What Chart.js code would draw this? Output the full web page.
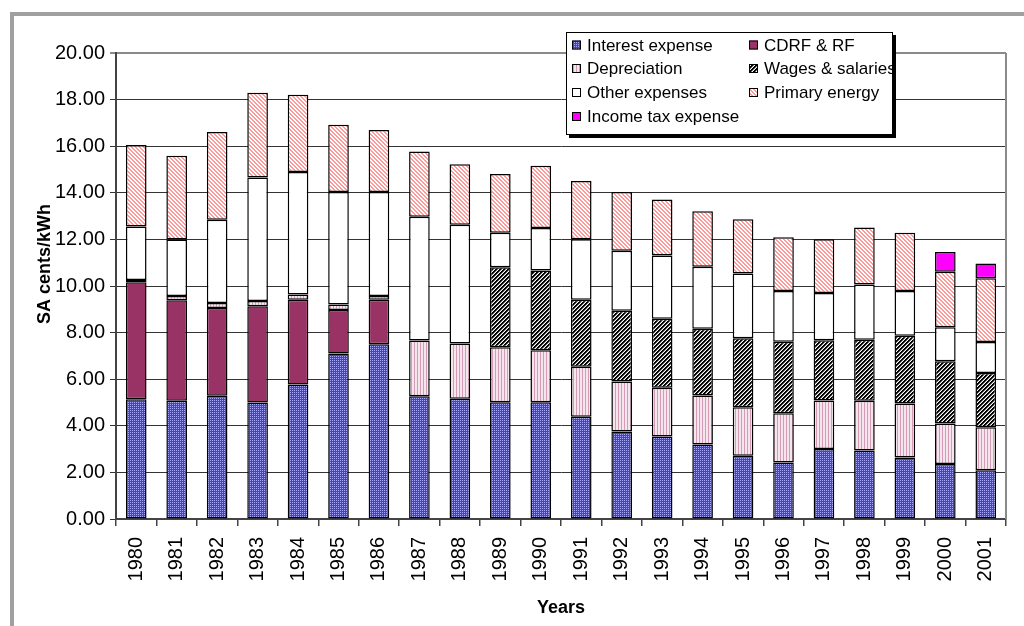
<!DOCTYPE html>
<html>
<head>
<meta charset="utf-8">
<script src="https://cdn.jsdelivr.net/npm/chart.js@4.4.1/dist/chart.umd.min.js"></script>
<style>
html,body{margin:0;padding:0;background:#fff;}
#wrap{position:relative;width:1024px;height:626px;}
</style>
</head>
<body>
<div id="wrap"><canvas id="c" width="1024" height="626"></canvas></div>
<script>
const years = ['1980','1981','1982','1983','1984','1985','1986','1987','1988','1989','1990','1991','1992','1993','1994','1995','1996','1997','1998','1999','2000','2001'];
const interestExpense = [5.14,5.07,5.29,5.00,5.77,7.10,7.50,5.27,5.16,5.01,5.01,4.39,3.76,3.54,3.20,2.71,2.43,3.00,2.94,2.64,2.36,2.09];
const cdrfRf          = [5.02,4.32,3.77,4.13,3.64,1.87,1.91,0,0,0,0,0,0,0,0,0,0,0,0,0,0,0];
const depreciation    = [0.10,0.18,0.21,0.23,0.22,0.24,0.16,2.39,2.37,2.36,2.23,2.14,2.14,2.09,2.10,2.09,2.11,2.09,2.13,2.32,1.74,1.85];
const wagesSalaries   = [0,0,0,0,0,0,0,0,0,3.44,3.43,2.88,3.04,2.96,2.87,2.96,3.07,2.58,2.62,2.91,2.67,2.33];
const otherExpenses   = [2.29,2.43,3.57,5.30,5.26,4.82,4.46,5.31,5.10,1.48,1.82,2.60,2.57,2.72,2.66,2.78,2.18,2.03,2.37,1.92,1.46,1.33];
const primaryEnergy   = [3.50,3.59,3.77,3.63,3.32,2.89,2.67,2.80,2.60,2.52,2.67,2.50,2.52,2.40,2.38,2.33,2.30,2.31,2.45,2.50,2.38,2.73];
const incomeTax       = [0,0,0,0,0,0,0,0,0,0,0,0,0,0,0,0,0,0,0,0,0.85,0.64];
const yTicks = [0,2,4,6,8,10,12,14,16,18,20];

const canvas = document.getElementById('c');
const cctx = canvas.getContext('2d');
function makePattern(w,h,fn){
  const t=document.createElement('canvas'); t.width=w; t.height=h;
  const g=t.getContext('2d');
  for(let y=0;y<h;y++)for(let x=0;x<w;x++){g.fillStyle=fn(x,y);g.fillRect(x,y,1,1);}
  return cctx.createPattern(t,'repeat');
}
const pInterest = makePattern(2,2,(x,y)=> (x===0&&y===0)?'#a8a8ff':'#3c3cff');
const pDep = makePattern(3,1,(x,y)=> x===0?'#d49ab8':'#f5e6ee');
const pWages = makePattern(4,4,(x,y)=> { const k=(x+y)%4; return k<2?'#000000':(k===2?'#808080':'#ffffff'); });
const pPrimary = makePattern(4,4,(x,y)=> ((x+4-y)%4<2)?'#ff9a9a':'#ffffff');

const series = [
  {label:'Interest expense', data:interestExpense, bg:pInterest},
  {label:'CDRF & RF', data:cdrfRf, bg:'#993366'},
  {label:'Depreciation', data:depreciation, bg:pDep},
  {label:'Wages & salaries', data:wagesSalaries, bg:pWages},
  {label:'Other expenses', data:otherExpenses, bg:'#ffffff'},
  {label:'Primary energy', data:primaryEnergy, bg:pPrimary},
  {label:'Income tax expense', data:incomeTax, bg:'#ff00ff'}
];

const FONT = '"Liberation Sans", Arial, sans-serif';

const decor = {
  id:'decor',
  beforeDraw(chart){
    const c=chart.ctx;
    c.save();
    c.fillStyle='#a0a0a0';
    c.fillRect(10,12,1014,4);
    c.fillRect(10,12,4,614);
    c.restore();
  },
  afterDatasetsDraw(chart){
    const c=chart.ctx, a=chart.chartArea;
    c.save();
    c.strokeStyle='#8a8a8a'; c.lineWidth=2;
    c.beginPath(); c.moveTo(a.right,a.top); c.lineTo(a.right,a.bottom); c.stroke();
    c.restore();
  },
  afterDraw(chart){
    const c=chart.ctx, a=chart.chartArea;
    c.save();
    c.fillStyle='#000';
    c.font='bold 18px '+FONT;
    c.textAlign='center'; c.textBaseline='middle';
    c.fillText('Years',(a.left+a.right)/2,608);
    c.translate(45,264); c.rotate(-Math.PI/2);
    c.fillText('SA cents/kWh',0,0);
    c.restore();
    c.save();
    const bx=566, by=32, bw=327, bh=103;
    c.fillStyle='#000'; c.fillRect(bx+3,by+3,bw,bh);
    c.fillStyle='#fff'; c.fillRect(bx,by,bw,bh);
    c.strokeStyle='#000'; c.lineWidth=1; c.strokeRect(bx+0.5,by+0.5,bw-1,bh-1);
    const colX=[572,749], rowY=[45,68.5,92.5,116.5];
    c.font='17px '+FONT; c.textBaseline='middle'; c.textAlign='left';
    c.beginPath(); c.rect(bx+1,by+1,bw-2,bh-2); c.clip();
    chart.data.datasets.forEach((ds,i)=>{
      const x=colX[i%2], y=rowY[Math.floor(i/2)];
      c.fillStyle=ds.backgroundColor; c.fillRect(x,y-4.5,9,9);
      c.strokeStyle='#000'; c.lineWidth=1; c.strokeRect(x+0.5,y-4,8,8);
      c.fillStyle='#000'; c.fillText(ds.label,x+15,y+1);
    });
    c.restore();
  }
};

new Chart(canvas,{
  type:'bar',
  data:{
    labels:years,
    datasets:series.map(s=>({
      label:s.label,
      data:s.data.map(v=>v||null),
      backgroundColor:s.bg,
      borderColor:'#000',
      borderWidth:1.5,
      borderSkipped:false,
      barPercentage:0.51,
      categoryPercentage:1.0
    }))
  },
  options:{
    responsive:false,
    devicePixelRatio:1,
    animation:false,
    layout:{padding:{top:53,right:18,left:0,bottom:0}},
    plugins:{legend:{display:false},tooltip:{enabled:false},title:{display:false}},
    scales:{
      x:{
        stacked:true,
        afterFit(s){s.height=107;},
        grid:{drawOnChartArea:false,drawTicks:true,tickLength:7,offset:true,color:'#444',lineWidth:1.5},
        border:{color:'#444',width:2},
        ticks:{autoSkip:false,minRotation:90,maxRotation:90,padding:11,color:'#000',font:{family:FONT,size:20}}
      },
      y:{
        stacked:true,
        min:0,max:20,
        afterFit(s){s.width=116;},
        afterBuildTicks(s){s.ticks=yTicks.map(v=>({value:v}));},
        grid:{
          color:(ctx)=> (ctx.tick&&ctx.tick.value===20)?'#8a8a8a':'#333',
          lineWidth:(ctx)=> (ctx.tick&&ctx.tick.value===20)?2:1,
          tickLength:6
        },
        border:{color:'#444',width:2},
        ticks:{padding:5,color:'#000',font:{family:FONT,size:20},callback:(v)=>Number(v).toFixed(2)}
      }
    }
  },
  plugins:[decor]
});
</script>
</body>
</html>
